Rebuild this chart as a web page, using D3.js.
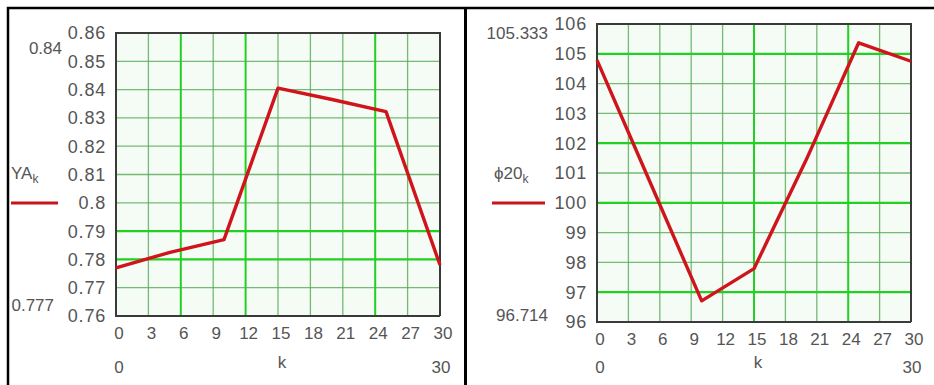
<!DOCTYPE html>
<html>
<head>
<meta charset="utf-8">
<script src="https://cdn.jsdelivr.net/npm/d3@7"></script>
<style>
  body { margin: 0; background: #fff; }
  text { font-family: "Liberation Sans", Arial, sans-serif; fill: #555; }
</style>
</head>
<body>
<div id="chart"></div>
<script>
// data
var kValues = [0, 5, 10, 15, 20, 25, 30];
var yaValues = [0.777, 0.7825, 0.787, 0.8405, 0.8365, 0.8322, 0.778];
var phiValues = [104.79, 100.75, 96.71, 97.79, 101.45, 105.37, 104.75];

var xTicks = [0, 3, 6, 9, 12, 15, 18, 21, 24, 27, 30];
var yaTicks = [0.76, 0.77, 0.78, 0.79, 0.8, 0.81, 0.82, 0.83, 0.84, 0.85, 0.86];
var phiTicks = [96, 97, 98, 99, 100, 101, 102, 103, 104, 105, 106];

var yaLabel = "YA", phiLabel = "\u03D520";
var yaLimits = ["0.84", "0.777"], phiLimits = ["105.333", "96.714"];
var kLimits = ["0", "30"];

var svg = d3.select("#chart")
  .append("svg")
    .attr("width", 934)
    .attr("height", 385);

// outer frame
svg.append("path")
  .attr("d", "M8,385 V8 H934")
  .attr("fill", "none").attr("stroke", "#000").attr("stroke-width", 2.5);
svg.append("line")
  .attr("x1", 465.5).attr("x2", 465.5).attr("y1", 7).attr("y2", 385)
  .attr("stroke", "#000").attr("stroke-width", 3);

function panel(opt) {
  var x = d3.scaleLinear().domain([0, 30]).range([opt.left, opt.right]);
  var y = d3.scaleLinear().domain(opt.yDomain).range([opt.bottom, opt.top]);
  var g = svg.append("g");

  g.append("rect")
    .attr("x", opt.left).attr("y", opt.top)
    .attr("width", opt.right - opt.left).attr("height", opt.bottom - opt.top)
    .attr("fill", "#f5fbf5");

  // grid
  g.selectAll(".gx").data(xTicks).enter().append("line")
    .attr("x1", function(d){ return x(d); }).attr("x2", function(d){ return x(d); })
    .attr("y1", opt.top).attr("y2", opt.bottom)
    .attr("stroke", function(d){ return opt.strongX.indexOf(d) >= 0 ? "#22d022" : "#5a5"; })
    .attr("stroke-opacity", function(d){ return opt.strongX.indexOf(d) >= 0 ? 1 : 0.8; })
    .attr("stroke-width", function(d){ return opt.strongX.indexOf(d) >= 0 ? 2 : 1.3; });
  g.selectAll(".gy").data(opt.yTicks).enter().append("line")
    .attr("x1", opt.left).attr("x2", opt.right)
    .attr("y1", function(d){ return y(d); }).attr("y2", function(d){ return y(d); })
    .attr("stroke", function(d){ return opt.strongY.indexOf(d) >= 0 ? "#22d022" : "#5a5"; })
    .attr("stroke-opacity", function(d){ return opt.strongY.indexOf(d) >= 0 ? 1 : 0.8; })
    .attr("stroke-width", function(d){ return opt.strongY.indexOf(d) >= 0 ? 2.2 : 1.3; });

  // plot frame
  g.append("path")
    .attr("d", "M" + opt.right + "," + opt.bottom + " V" + opt.top + " H" + opt.left + " V" + opt.bottom + " H" + opt.right)
    .attr("fill", "none").attr("stroke", "#3a3a3a").attr("stroke-width", 2);

  // tick labels
  g.selectAll(".ty").data(opt.yTicks).enter().append("text")
    .attr("x", opt.left - 10).attr("y", function(d){ return y(d); })
    .attr("dy", "0.36em").attr("text-anchor", "end")
    .style("font-size", "18px").style("letter-spacing", "0.8px")
    .text(function(d){ return opt.fmt(d); });
  g.selectAll(".tx").data(xTicks).enter().append("text")
    .attr("x", function(d){ return x(d) + 3; }).attr("y", opt.bottom + 17)
    .attr("dy", "0.36em").attr("text-anchor", "middle")
    .style("font-size", "17px")
    .text(function(d){ return d; });

  // limits
  g.append("text").attr("x", opt.limTopX).attr("y", opt.limTopY).attr("dy", "0.36em")
    .attr("text-anchor", "end").style("font-size", "17px").text(opt.limits[0]);
  g.append("text").attr("x", opt.limBotX).attr("y", opt.limBotY).attr("dy", "0.36em")
    .attr("text-anchor", "end").style("font-size", "17px").text(opt.limits[1]);
  g.append("text").attr("x", opt.left + 3).attr("y", 367).attr("dy", "0.36em")
    .attr("text-anchor", "middle").style("font-size", "17px").text(kLimits[0]);
  g.append("text").attr("x", opt.right + 1).attr("y", 367).attr("dy", "0.36em")
    .attr("text-anchor", "middle").style("font-size", "17px").text(kLimits[1]);
  g.append("text").attr("x", (opt.left + opt.right) / 2 + 4).attr("y", 362).attr("dy", "0.36em")
    .attr("text-anchor", "middle").style("font-size", "17px").text("k");

  // legend
  var lab = g.append("text").attr("x", opt.labX).attr("y", 173).attr("dy", "0.36em")
    .style("font-size", "17px").text(opt.label);
  lab.append("tspan").attr("dy", "4").style("font-size", "12px").text("k");
  g.append("line")
    .attr("x1", opt.legX1).attr("x2", opt.legX2).attr("y1", 203).attr("y2", 203)
    .attr("stroke", "#c8141c").attr("stroke-width", 3.2);

  // series
  var line = d3.line()
    .x(function(d, i){ return x(kValues[i]); })
    .y(function(d){ return y(d); });
  g.append("path")
    .datum(opt.values)
    .attr("d", line)
    .attr("fill", "none")
    .attr("stroke", "#d0141c")
    .attr("stroke-width", 3.4)
    .attr("stroke-linejoin", "round");
}

panel({
  left: 116, right: 440, top: 33, bottom: 316,
  yDomain: [0.76, 0.86], yTicks: yaTicks, values: yaValues,
  fmt: function(d){ return d3.format("")(+d.toFixed(2)); },
  strongX: [6, 12, 24], strongY: [0.78, 0.79],
  limits: yaLimits, limTopX: 62, limTopY: 48, limBotX: 54, limBotY: 305,
  label: yaLabel, labX: 11, legX1: 11, legX2: 58
});

panel({
  left: 597, right: 911, top: 24, bottom: 322,
  yDomain: [96, 106], yTicks: phiTicks, values: phiValues,
  fmt: function(d){ return d; },
  strongX: [15, 24], strongY: [97, 100, 102, 105],
  limits: phiLimits, limTopX: 548, limTopY: 33, limBotX: 548, limBotY: 315,
  label: phiLabel, labX: 494, legX1: 492, legX2: 545
});
</script>
</body>
</html>
